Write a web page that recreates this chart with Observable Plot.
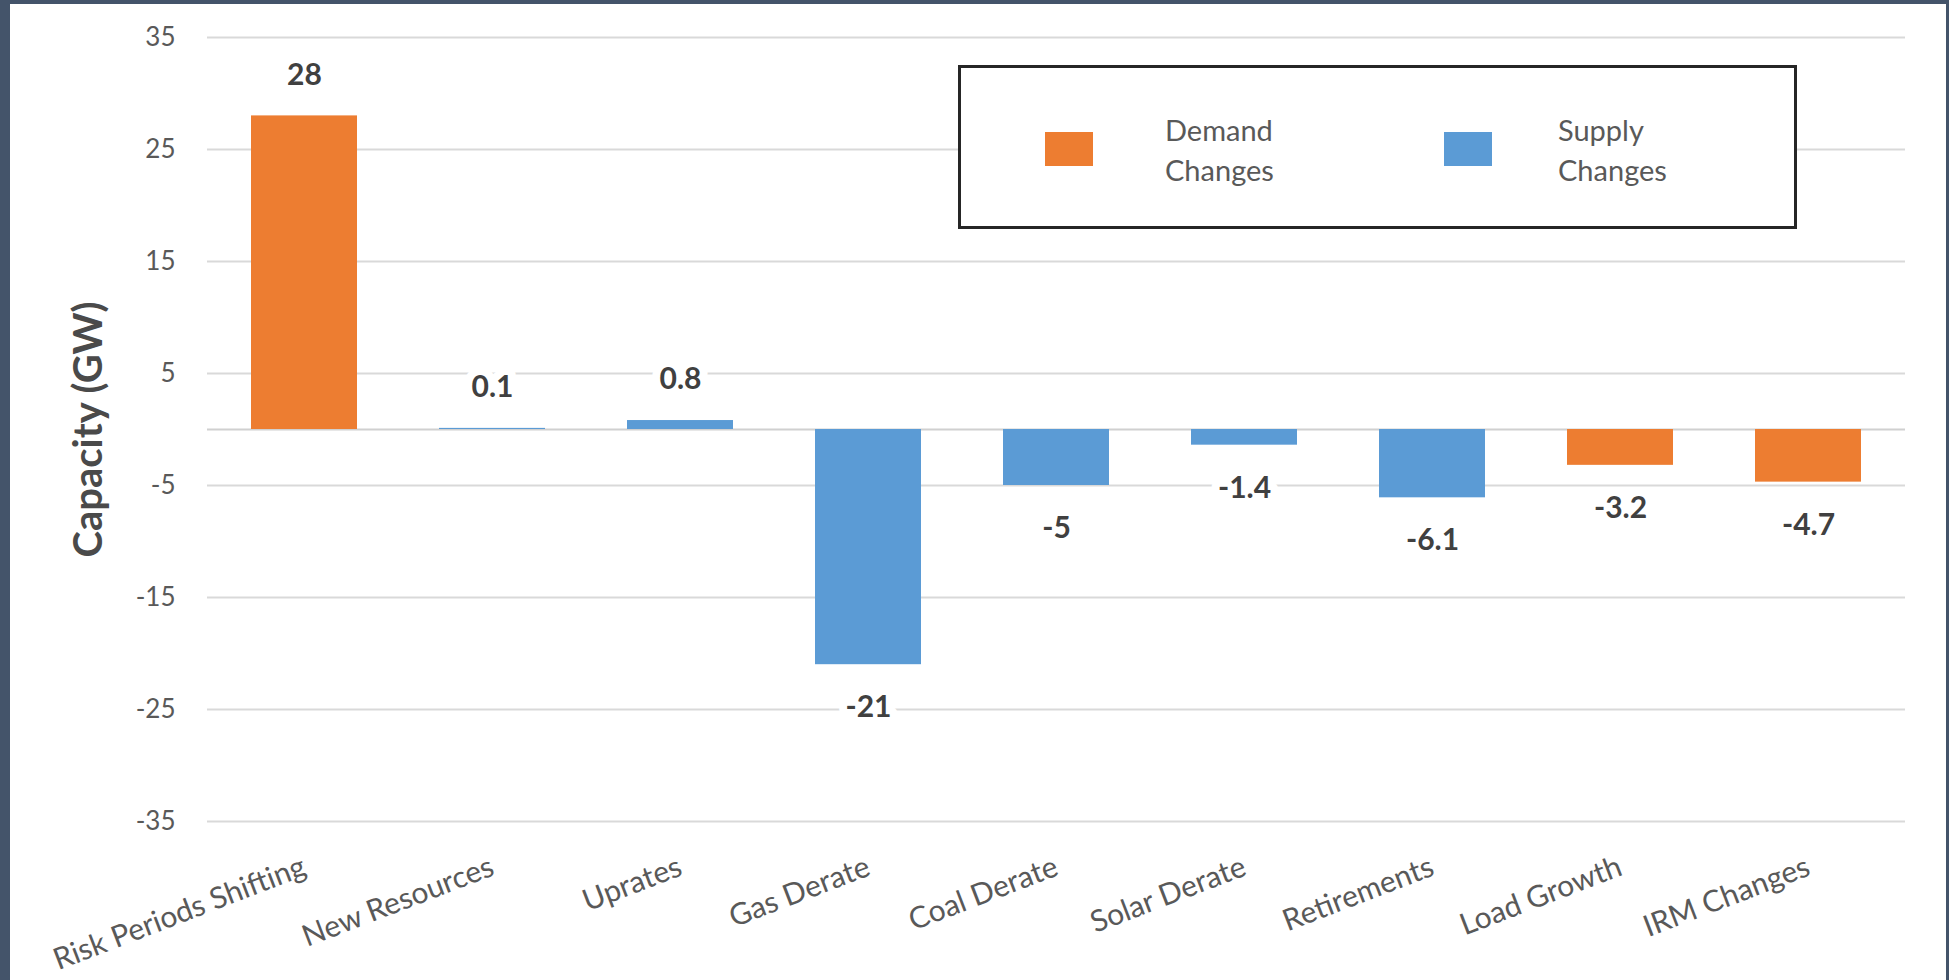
<!DOCTYPE html>
<html>
<head>
<meta charset="utf-8">
<script src="https://cdn.jsdelivr.net/npm/d3@7"></script>
<script src="https://cdn.jsdelivr.net/npm/@observablehq/plot@0.6"></script>
<style>
  html, body { margin: 0; padding: 0; background: #44546A; width: 1949px; height: 980px; overflow: hidden; }
  #panel { position: absolute; left: 10px; top: 4px; width: 1936px; height: 976px; background: #ffffff; }
  #legend { position: absolute; left: 948px; top: 61px; width: 839px; height: 164px; box-sizing: border-box;
            border: 3px solid #262626; background: #ffffff; font-family: Lato, sans-serif; color: #595959; }
  .sw { position: absolute; width: 48px; height: 34px; top: 64px; }
  .lab { position: absolute; top: 42px; font-size: 29px; line-height: 40px; white-space: nowrap; }
</style>
</head>
<body>
<div id="panel"><div id="chart"></div><div id="legend"></div></div>
<script>
// ---- data ----
const categories = ["Risk Periods Shifting", "New Resources", "Uprates", "Gas Derate", "Coal Derate", "Solar Derate", "Retirements", "Load Growth", "IRM Changes"];
const values = [28, 0.1, 0.8, -21, -5, -1.4, -6.1, -3.2, -4.7];
const changeTypes = ["Demand Changes", "Supply Changes", "Supply Changes", "Supply Changes", "Supply Changes", "Supply Changes", "Supply Changes", "Demand Changes", "Demand Changes"];
const seriesNames = ["Demand Changes", "Supply Changes"];
const seriesLines = [["Demand", "Changes"], ["Supply", "Changes"]];
const seriesColors = ["#ED7D31", "#5B9BD5"];
const yTicks = [35, 25, 15, 5, -5, -15, -25, -35];
const yTitle = "Capacity (GW)";

const rows = categories.map((c, i) => ({category: c, value: values[i], type: changeTypes[i]}));

const chart = Plot.plot({
  width: 1936,
  height: 976,
  marginLeft: 197,
  marginRight: 41,
  marginTop: 33,
  marginBottom: 159,
  style: {fontFamily: "Lato, sans-serif", background: "transparent"},
  x: {domain: categories, paddingInner: 0.436, paddingOuter: 0.218, label: null},
  y: {domain: [-35, 35], label: null},
  color: {domain: seriesNames, range: seriesColors},
  marks: [
    Plot.gridY(yTicks, {stroke: "#d9d9d9", strokeOpacity: 1, strokeWidth: 2}),
    Plot.ruleY([0], {stroke: "#d0d0d0", strokeWidth: 2}),
    Plot.barY(rows, {x: "category", y: "value", fill: "type"}),
    Plot.text(rows.filter(d => d.value >= 0), {x: "category", y: "value", text: d => String(d.value),
      dy: -41, fontSize: 30, fontWeight: 700, fill: "#404040", stroke: "white", strokeWidth: 16}),
    Plot.text(rows.filter(d => d.value < 0), {x: "category", y: "value", text: d => String(d.value),
      dy: 43, fontSize: 30, fontWeight: 700, fill: "#404040", stroke: "white", strokeWidth: 16}),
    Plot.axisY(yTicks, {tickSize: 0, tickPadding: 32, fontSize: 26, fill: "#595959", label: null,
      tickFormat: d => String(d)}),
    Plot.axisX({tickSize: 0, tickPadding: 44, tickRotate: -21, fontSize: 30, fill: "#595959", label: null}),
    Plot.text([yTitle], {frameAnchor: "left", textAnchor: "middle", rotate: -90, dx: -118, fontSize: 40, fontWeight: 700, fill: "#4a4a4a"})
  ]
});
document.getElementById("chart").appendChild(chart);

// ---- legend (HTML, inside plot area) ----
const legend = document.getElementById("legend");
const swLeft = [84, 483];
const labLeft = [204, 597];
seriesNames.forEach((name, i) => {
  const sw = document.createElement("div");
  sw.className = "sw";
  sw.style.left = swLeft[i] + "px";
  sw.style.background = seriesColors[i];
  legend.appendChild(sw);
  const lab = document.createElement("div");
  lab.className = "lab";
  lab.style.left = labLeft[i] + "px";
  lab.innerHTML = seriesLines[i].join("<br>");
  legend.appendChild(lab);
});
</script>
</body>
</html>
